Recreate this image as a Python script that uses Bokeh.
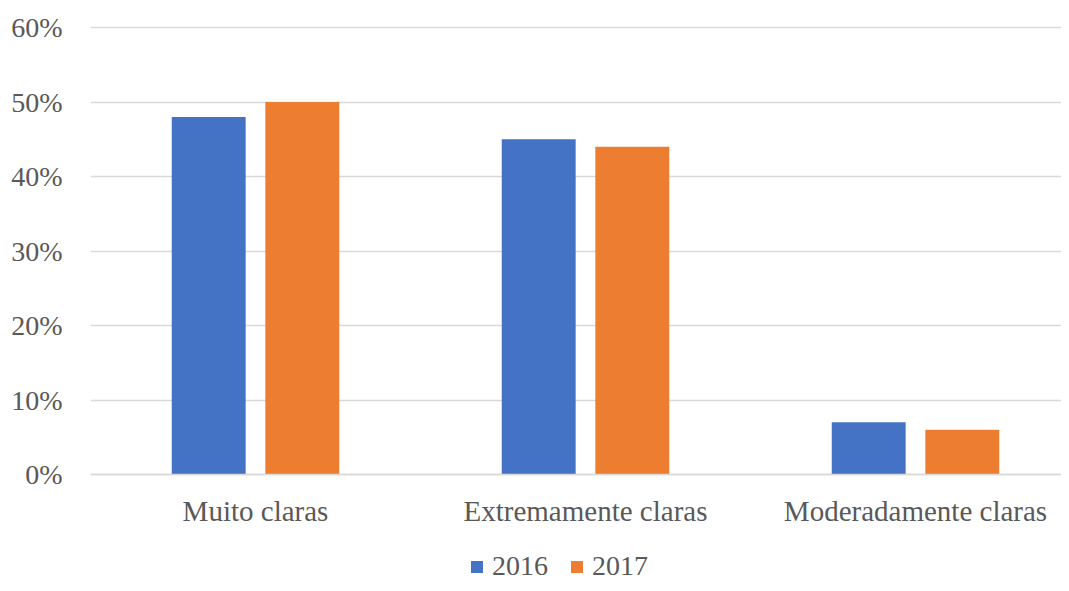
from bokeh.plotting import figure
from bokeh.models import Range1d, FixedTicker, Legend, LegendItem, ColumnDataSource
from bokeh.embed import file_html
from bokeh.resources import INLINE

categories = ["Muito claras", "Extremamente claras", "Moderadamente claras"]
series_names = ["2016", "2017"]
values_2016 = [48, 45, 7]
values_2017 = [50, 44, 6]
y_ticks = [0, 10, 20, 30, 40, 50, 60]
y_tick_labels = ["0%", "10%", "20%", "30%", "40%", "50%", "60%"]
colors = ["#4472C4", "#ED7D31"]

FONT = "Liberation Serif"
TXT = "#595959"
GRID = "#D9D9D9"

centers = [i + 0.5 for i in range(len(categories))]
offset = 0.1418
bar_w = 0.224

W, H = 1061, 583
p = figure(width=W, height=H, output_backend="svg", toolbar_location=None,
           x_range=Range1d(0, (W - 90) / 330.0), y_range=Range1d(-(H - 474) / 7.45, 60 + 7 / 7.45),
           min_border_left=90, min_border_right=0, min_border_top=20, min_border_bottom=0)
p.outline_line_color = None
p.background_fill_color = "white"
p.border_fill_color = "white"

src1 = ColumnDataSource(dict(x=[c - offset for c in centers], top=values_2016))
src2 = ColumnDataSource(dict(x=[c + offset for c in centers], top=values_2017))
r1 = p.vbar(x="x", top="top", width=bar_w, bottom=0, source=src1, fill_color=colors[0], line_color=None)
r2 = p.vbar(x="x", top="top", width=bar_w, bottom=0, source=src2, fill_color=colors[1], line_color=None)

p.xgrid.grid_line_color = None
p.ygrid.grid_line_color = GRID
p.ygrid.grid_line_width = 1.5
p.ygrid.ticker = FixedTicker(ticks=y_ticks)

p.yaxis.ticker = FixedTicker(ticks=y_ticks)
p.yaxis.major_label_overrides = {t: l for t, l in zip(y_ticks, y_tick_labels)}
p.yaxis.axis_line_color = None
p.yaxis.major_tick_line_color = None
p.yaxis.minor_tick_line_color = None
p.yaxis.major_tick_out = 0
p.yaxis.major_label_standoff = 28
p.yaxis.major_label_text_font = FONT
p.yaxis.major_label_text_font_size = "28px"
p.yaxis.major_label_text_color = TXT

p.xaxis.fixed_location = 0
p.xaxis.ticker = FixedTicker(ticks=centers)
p.xaxis.major_label_overrides = {c: n for c, n in zip(centers, categories)}
p.xaxis.axis_line_color = GRID
p.xaxis.axis_line_width = 1.5
p.xaxis.major_tick_line_color = None
p.xaxis.minor_tick_line_color = None
p.xaxis.major_tick_out = 0
p.xaxis.major_label_standoff = 20
p.xaxis.major_label_text_font = FONT
p.xaxis.major_label_text_font_size = "29px"
p.xaxis.major_label_text_color = TXT

legend = Legend(items=[LegendItem(label=series_names[0], renderers=[r1]),
                       LegendItem(label=series_names[1], renderers=[r2])],
                orientation="horizontal", location=(379, 1),
                glyph_width=15, glyph_height=15, label_standoff=8, spacing=21,
                label_text_font=FONT, label_text_font_size="28px", label_text_color=TXT,
                border_line_color=None, background_fill_alpha=0, padding=0, margin=0)
p.add_layout(legend, "center")

open("out.html", "w").write(file_html(p, INLINE))
